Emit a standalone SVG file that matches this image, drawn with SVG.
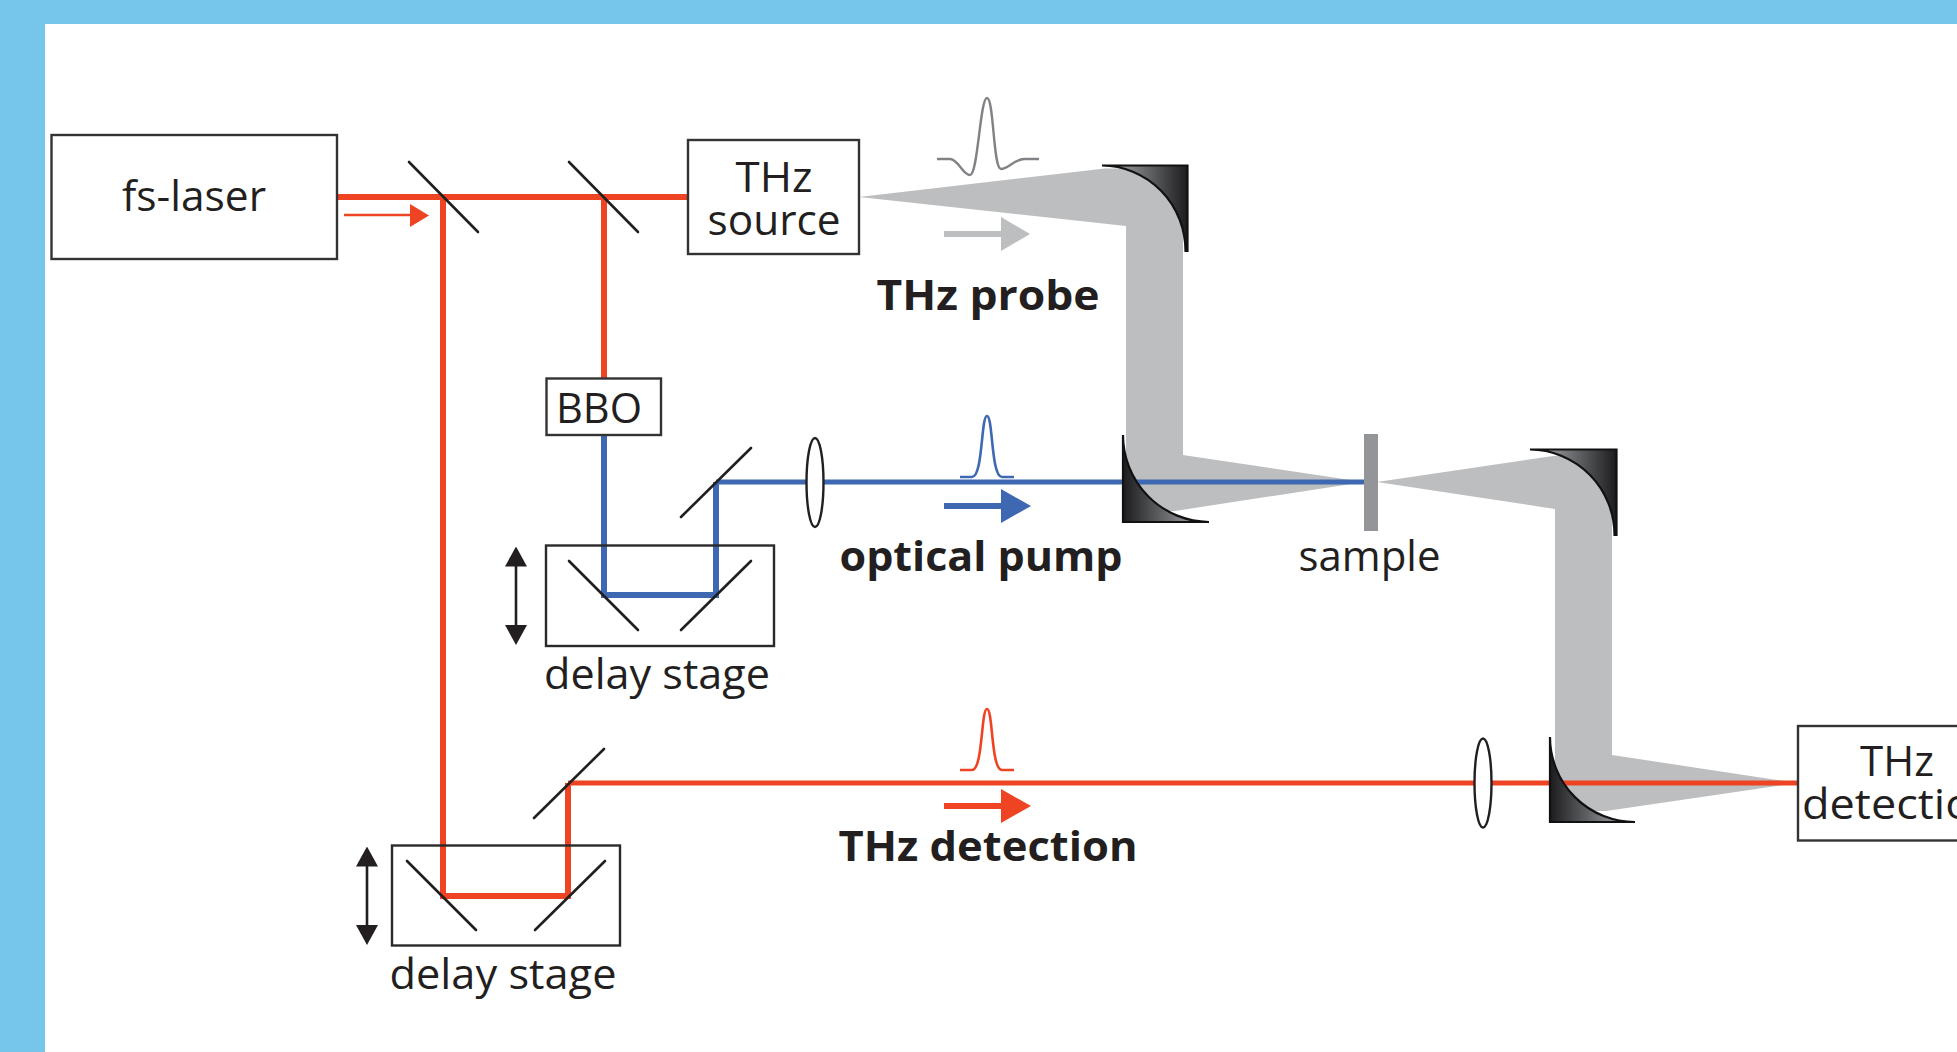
<svg xmlns="http://www.w3.org/2000/svg" width="1957" height="1052" viewBox="0 0 1957 1052">
<defs>
<linearGradient id="mirrorR" x1="0" y1="0" x2="1" y2="0"><stop offset="0" stop-color="#a7a9ac"/><stop offset="0.35" stop-color="#808285"/><stop offset="1" stop-color="#1c1c1e"/></linearGradient>
<linearGradient id="mirrorL" x1="0" y1="0" x2="1" y2="0"><stop offset="0" stop-color="#1c1c1e"/><stop offset="0.65" stop-color="#808285"/><stop offset="1" stop-color="#a7a9ac"/></linearGradient>
<marker id="blackHead" viewBox="0 0 20 22" refX="0.500" refY="11" markerWidth="20" markerHeight="22" markerUnits="userSpaceOnUse" orient="auto-start-reverse"><path d="M0 0L20 11L0 22Z" fill="#231f20"/></marker>
</defs>
<style>
.box{fill:#fff;stroke:#333;stroke-width:2.4}
.frame{fill:none;stroke:#2a2a2a;stroke-width:2.4}
.mirror{stroke:#231f20;stroke-width:2.6;fill:none;stroke-linecap:round}
.lens{fill:#fff;stroke:#231f20;stroke-width:2.4}
.beam{fill:#bcbec0}
.red{stroke:#ee4423;fill:none}
.blue{stroke:#3f68b2;fill:none}
.pm{stroke:#111;stroke-width:2.2}
.t{font-family:"Open Sans","Noto Sans",sans-serif;font-size:42px;fill:#231f20;text-anchor:middle}
.b{font-family:"Open Sans","Noto Sans",sans-serif;font-size:42px;font-weight:700;fill:#231f20;text-anchor:middle}
</style>
<rect width="1957" height="1052" fill="#76c5ea"/>
<rect x="45" y="24" width="1912" height="1028" fill="#fff"/>

<g id="thz-beams">
<path class="beam" d="M859 197L1105 168.500L1183 168L1183 455L1364 482L1175 511L1126 511L1126 226Z"/>
<path class="beam" d="M1377 482L1553 456L1612 452L1612 755L1797 783L1606 811L1555 811L1555 509Z"/>
</g>

<g id="connectors">
<path class="red" stroke-width="6" d="M337 197H688"/>
<path class="red" stroke-width="6" d="M443 197V896H568V783"/>
<path class="red" stroke-width="6" d="M604 197V378"/>
<path class="red" stroke-width="5" d="M568 783H1797"/>
<path class="blue" stroke-width="6" d="M604 435V595H716V482"/>
<path class="blue" stroke-width="5" d="M716 482H1364"/>
</g>

<g id="fs-laser"><rect class="box" x="51.500" y="135" width="285.500" height="124"/><text class="t" x="194" y="211" textLength="144" lengthAdjust="spacingAndGlyphs">fs-laser</text></g>
<g id="splitter-1"><line class="mirror" x1="409" y1="162" x2="478" y2="232"/></g>
<g id="splitter-2"><line class="mirror" x1="569" y1="162" x2="638" y2="232"/></g>
<g id="thz-source"><rect class="box" x="688" y="140" width="171" height="114"/><text class="t" x="774" y="192" textLength="77" lengthAdjust="spacingAndGlyphs">THz</text><text class="t" x="774" y="235" textLength="133" lengthAdjust="spacingAndGlyphs">source</text></g>
<g id="bbo"><rect class="box" x="546.500" y="378.500" width="114.500" height="56.500"/><text class="t" x="599" y="423" textLength="86" lengthAdjust="spacingAndGlyphs">BBO</text></g>

<g id="delay-stage-pump">
<rect class="frame" x="546" y="545.500" width="228" height="100.500"/>
<line class="mirror" x1="569" y1="561" x2="638" y2="630"/>
<line class="mirror" x1="681" y1="630" x2="751" y2="561"/>
<line class="mirror" x1="681" y1="517" x2="751" y2="448"/>
<line x1="516" y1="566" x2="516" y2="625.500" stroke="#231f20" stroke-width="2.600" marker-start="url(#blackHead)" marker-end="url(#blackHead)"/>
<text class="t" x="657" y="689" textLength="226" lengthAdjust="spacingAndGlyphs">delay stage</text>
</g>
<g id="delay-stage-detection">
<rect class="frame" x="392" y="845.500" width="228" height="100"/>
<line class="mirror" x1="407" y1="861" x2="476" y2="930"/>
<line class="mirror" x1="535" y1="930" x2="605" y2="861"/>
<line class="mirror" x1="534" y1="818" x2="604" y2="749"/>
<line x1="367" y1="866" x2="367" y2="925.500" stroke="#231f20" stroke-width="2.600" marker-start="url(#blackHead)" marker-end="url(#blackHead)"/>
<text class="t" x="503" y="989" textLength="227" lengthAdjust="spacingAndGlyphs">delay stage</text>
</g>

<g id="lens-pump"><ellipse class="lens" cx="815" cy="482.500" rx="8.500" ry="44.500"/></g>
<g id="lens-detection"><ellipse class="lens" cx="1483" cy="783" rx="8.500" ry="44.500"/></g>

<g id="mirror-1"><path class="pm" fill="url(#mirrorR)" d="M1102 165.500H1187.500V251H1185.500A84 85.500 0 0 0 1102 165.500Z"/></g>
<g id="mirror-2"><path class="pm" fill="url(#mirrorL)" d="M1123 435V522H1209A87 87 0 0 1 1123 435Z"/></g>
<g id="mirror-3"><path class="pm" fill="url(#mirrorR)" d="M1530 449.500H1616.500V535H1614.500A85 85.500 0 0 0 1530 449.500Z"/></g>
<g id="mirror-4"><path class="pm" fill="url(#mirrorL)" d="M1550 737V822H1635A85 85 0 0 1 1550 737Z"/></g>

<g id="sample"><rect x="1364" y="434" width="14" height="97" fill="#939598"/><text class="t" x="1369.500" y="571" textLength="142" lengthAdjust="spacingAndGlyphs">sample</text></g>
<g id="thz-detection"><rect class="box" x="1798" y="726" width="200" height="114.500"/><text class="t" x="1897" y="776">THz</text><text class="t" x="1901" y="819" textLength="198" lengthAdjust="spacingAndGlyphs">detection</text></g>

<g id="arrow-laser"><path class="red" stroke-width="2.600" d="M344 215H412"/><path fill="#ee4423" d="M410 204L429 215.500L410 227Z"/></g>
<g id="probe">
<path fill="none" stroke="#808285" stroke-width="2.400" d="M937 159H950C958 159 963 175 970 175C978 175 980 98 987 98C994 98 993 169 1001 169C1008 169 1015 159 1024 159H1039"/>
<path fill="none" stroke="#bcbec0" stroke-width="6" d="M944 234H1003"/><path fill="#bcbec0" d="M1001 217L1030 234L1001 251Z"/>
<text class="b" x="988" y="310" textLength="223" lengthAdjust="spacingAndGlyphs">THz probe</text>
</g>
<g id="pump">
<path class="blue" stroke-width="2.600" d="M960 477H972C983 477 981 416 987 416C993 416 991 477 1002 477H1014"/>
<path class="blue" stroke-width="6" d="M944 506H1003"/><path fill="#3f68b2" d="M1001 489L1031 506L1001 523Z"/>
<text class="b" x="981" y="571" textLength="283" lengthAdjust="spacingAndGlyphs">optical pump</text>
</g>
<g id="detection">
<path class="red" stroke-width="2.600" d="M960 770H972C983 770 981 709 987 709C993 709 991 770 1002 770H1014"/>
<path class="red" stroke-width="6" d="M944 806H1003"/><path fill="#ee4423" d="M1001 789L1031 806L1001 823Z"/>
<text class="b" x="988" y="861" textLength="299" lengthAdjust="spacingAndGlyphs">THz detection</text>
</g>
</svg>
